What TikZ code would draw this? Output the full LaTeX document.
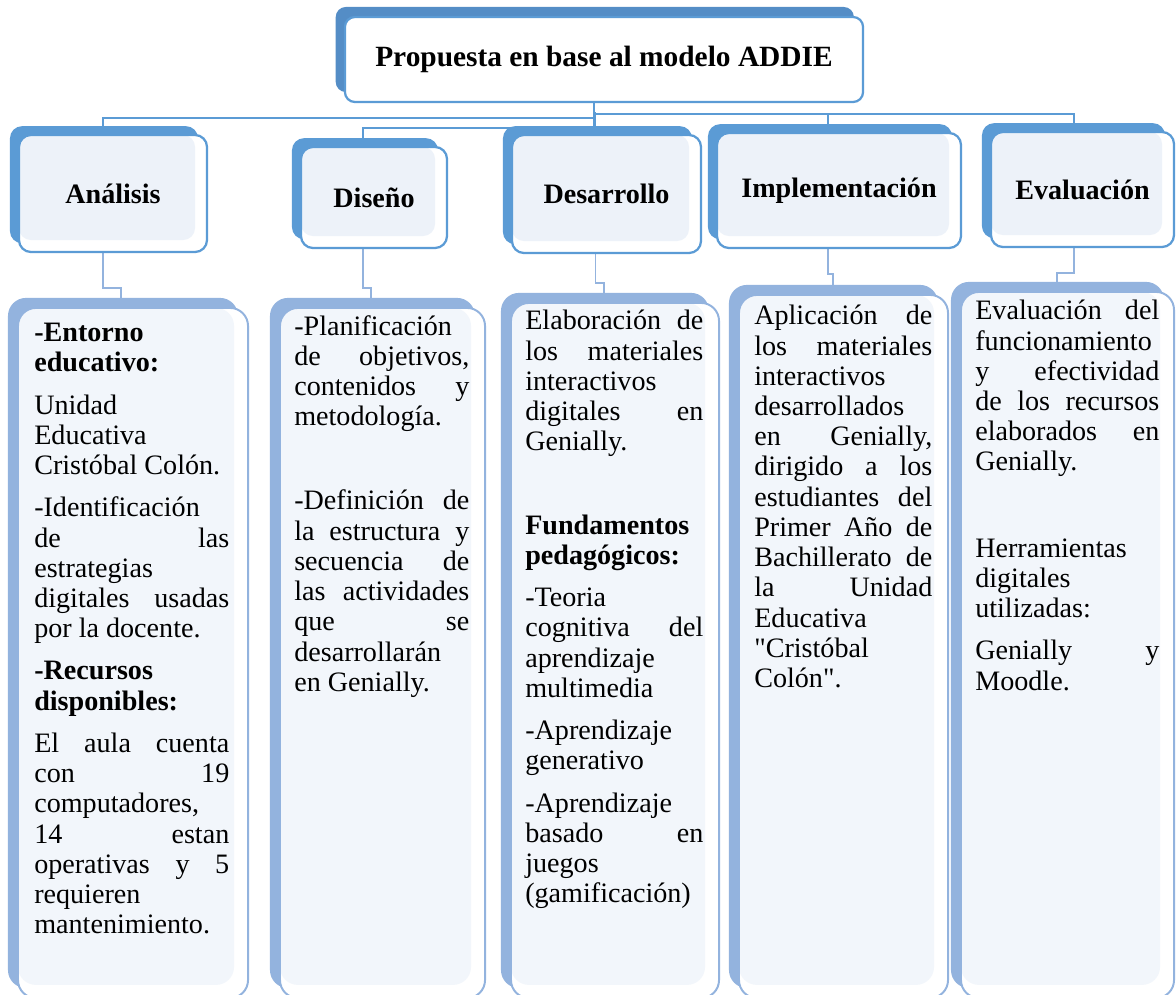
\documentclass[tikz,border=0pt]{standalone}
\usepackage{fontspec}
\setmainfont{Liberation Serif}[Ligatures=TeXOff]
\usetikzlibrary{positioning}
\pgfdeclarelayer{background}
\pgfsetlayers{background,main}
\setlength{\parindent}{0pt}
\tolerance=10000
\hyphenpenalty=10000
\newcommand\justifylines{\rightskip=0pt\relax\leftskip=0pt\relax
  \spaceskip=0pt\relax\xspaceskip=0pt\relax\parfillskip=0pt plus 1fil\relax}

\definecolor{topback}{HTML}{548DC6}
\definecolor{phaseback}{HTML}{5B9BD5}
\definecolor{phaseline}{HTML}{5B9BD5}
\definecolor{phasefill}{HTML}{EDF2F9}
\definecolor{detailback}{HTML}{93B3DE}
\definecolor{detailfill}{HTML}{F2F6FB}

\tikzset{
  addiebox/.style={draw=phaseline, line width=1.6pt, fill=white, rounded corners=0.25cm,
    preaction={fill=topback, transform canvas={xshift=-0.23cm, yshift=0.25cm}},
    font=\fontsize{20.9}{24}\selectfont\bfseries},
  phase/.style={draw=phaseline, line width=1.6pt, fill=white, rounded corners=0.3cm,
    preaction={fill=phaseback, transform canvas={xshift=-0.225cm, yshift=0.22cm}},
    path picture={\fill[phasefill, rounded corners=0.3cm]
      (path picture bounding box.north west) rectangle
      ([xshift=-0.3cm, yshift=0.3cm]path picture bounding box.south east);},
    font=\fontsize{20}{24}\selectfont\bfseries},
  detail/.style={draw=detailback, line width=1.4pt, fill=white, rounded corners=0.45cm,
    preaction={fill=detailback, transform canvas={xshift=-0.25cm, yshift=0.25cm}},
    path picture={\fill[detailfill, rounded corners=0.45cm]
      (path picture bounding box.north west) rectangle
      ([xshift=-0.35cm, yshift=0.33cm]path picture bounding box.south east);}},
  detailtext/.style={anchor=north west, inner sep=0pt,
    font=\fontsize{20}{21.5}\selectfont},
  toplink/.style={draw=phaseline, line width=1.4pt},
  sublink/.style={draw=detailback, line width=1.4pt},
}

\begin{document}
\begin{tikzpicture}[x=0.025cm, y=-0.025cm]
\useasboundingbox (0,0) rectangle (1176,994);
\clip (0,0) rectangle (1176,994);

% top of the model
\node[addiebox, minimum width=12.95cm, minimum height=2.125cm] (addie) at (604,59.5) {Propuesta en base al modelo ADDIE};

% the five phases
\node[phase, minimum width=4.7cm, minimum height=2.925cm] (analisis) at (113,193.5) {Análisis};
\node[phase, minimum width=3.65cm, minimum height=2.525cm] (diseno) at (374,197.5) {Diseño};
\node[phase, minimum width=4.725cm, minimum height=2.95cm] (desarrollo) at (606.5,194) {Desarrollo};
\node[phase, minimum width=6.1cm, minimum height=2.875cm] (implementacion) at (839,190.5) {Implementación};
\node[phase, minimum width=4.575cm, minimum height=2.875cm] (evaluacion) at (1082.5,189.5) {Evaluación};

% boxes with the details
\node[detail, minimum width=5.75cm, minimum height=17.25cm] (danalisis) at (133,653) {};
\node[detail, minimum width=5.125cm, minimum height=17.25cm] (ddiseno) at (382.5,653) {};
\node[detail, minimum width=5.2cm, minimum height=17.375cm] (ddesarrollo) at (615,650.5) {};
\node[detail, minimum width=5.225cm, minimum height=17.575cm] (dimplementacion) at (843.5,646.5) {};
\node[detail, minimum width=5.325cm, minimum height=17.65cm] (devaluacion) at (1067.5,645) {};

\node[detailtext, text width=4.875cm] (tanalisis) at ([shift={(17,16)}]danalisis.north west)
  {\justifylines\textbf{-Entorno}\\ \textbf{educativo:}\\[0.3cm]
   Unidad \linebreak Educativa \linebreak Cristóbal Colón.\\[0.3cm]
   -Identificación \linebreak de las \linebreak estrategias \linebreak digitales usadas \linebreak por la docente.\\[0.3cm]
   \textbf{-Recursos}\\ \textbf{disponibles:}\\[0.3cm]
   El aula cuenta \linebreak con 19 \linebreak computadores, \linebreak 14 estan \linebreak operativas y 5 \linebreak requieren \linebreak mantenimiento.\par};
\node[detailtext, text width=4.375cm] (tdiseno) at ([shift={(15,8)}]ddiseno.north west)
  {\justifylines -Planificación \linebreak de objetivos, \linebreak contenidos y \linebreak metodología.\\[1.35cm]
   -Definición de \linebreak la estructura y \linebreak secuencia de \linebreak las actividades \linebreak que se \linebreak desarrollarán \linebreak en Genially.\par};
\node[detailtext, text width=4.45cm] (tdesarrollo) at ([shift={(15,8)}]ddesarrollo.north west)
  {\justifylines Elaboración de \linebreak los materiales \linebreak interactivos \linebreak digitales en \linebreak Genially.\\[1.33cm]
   \textbf{Fundamentos}\\ \textbf{pedagógicos:}\\[0.3cm]
   -Teoria \linebreak cognitiva del \linebreak aprendizaje \linebreak multimedia\\[0.3cm]
   -Aprendizaje \linebreak generativo\\[0.3cm]
   -Aprendizaje \linebreak basado en \linebreak juegos \linebreak (gamificación)\par};
\node[detailtext, text width=4.45cm] (timplementacion) at ([shift={(16,11)}]dimplementacion.north west)
  {\justifylines Aplicación de \linebreak los materiales \linebreak interactivos \linebreak desarrollados \linebreak en Genially, \linebreak dirigido a los \linebreak estudiantes del \linebreak Primer Año de \linebreak Bachillerato de \linebreak la Unidad \linebreak Educativa \linebreak "Cristóbal \linebreak Colón".\par};
\node[detailtext, text width=4.6cm] (tevaluacion) at ([shift={(15,9)}]devaluacion.north west)
  {\justifylines Evaluación del \linebreak funcionamiento \linebreak y efectividad \linebreak de los recursos \linebreak elaborados en \linebreak Genially.\\[1.4cm]
   Herramientas \linebreak digitales \linebreak utilizadas:\\[0.3cm]
   Genially y \linebreak Moodle.\par};

\begin{pgfonlayer}{background}
% from the model to the phases
\draw[toplink] ([xshift=-0.25cm]addie.south) -- ++(0,15) -| ([xshift=-0.26cm]analisis.north);
\draw[toplink] ([xshift=-0.25cm]addie.south) -- ++(0,25) -| ([xshift=-0.275cm]diseno.north);
\draw[toplink] ([xshift=-0.25cm]addie.south) -- ++(0,10) -| ([xshift=-0.275cm]desarrollo.north);
\draw[toplink] ([xshift=-0.25cm]addie.south) -- ++(0,11) -| ([xshift=-0.275cm]implementacion.north);
\draw[toplink] ([xshift=-0.25cm]addie.south) -- ++(0,11) -| ([xshift=-0.21cm]evaluacion.north);
% from the phases to their details
\draw[sublink] ([xshift=-0.26cm]analisis.south) -- ++(0,35) -| ([xshift=-0.3cm]danalisis.north);
\draw[sublink] ([xshift=-0.275cm]diseno.south) -- ++(0,39) -| ([xshift=-0.29cm]ddiseno.north);
\draw[sublink] ([xshift=-0.275cm]desarrollo.south) -- ++(0,29) -| ([xshift=-0.28cm]ddesarrollo.north);
\draw[sublink] ([xshift=-0.275cm]implementacion.south) -- ++(0,25) -| ([xshift=-0.26cm]dimplementacion.north);
\draw[sublink] ([xshift=-0.21cm]evaluacion.south) -- ++(0,25) -| ([xshift=-0.26cm]devaluacion.north);
\end{pgfonlayer}
\end{tikzpicture}
\end{document}
